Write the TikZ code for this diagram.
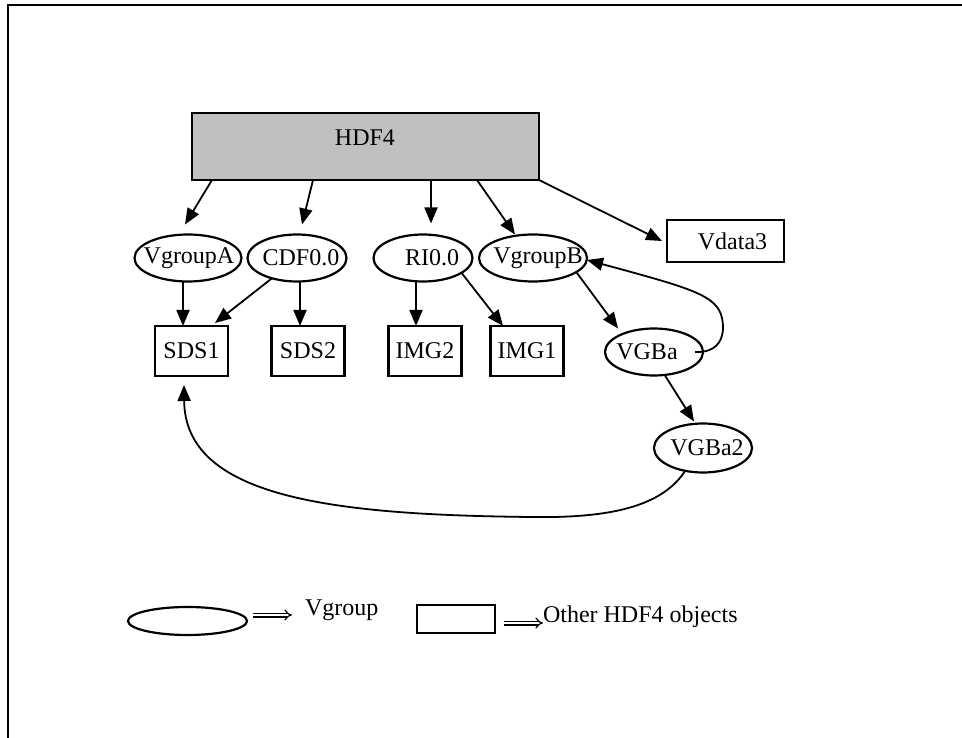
\documentclass[tikz,border=0pt]{standalone}
\usepackage{fontspec}
\setmainfont{Liberation Serif}
\usetikzlibrary{arrows.meta,shapes.geometric}
\definecolor{boxgray}{RGB}{192,192,192}
\newcommand\shifted[2]{\makebox[0pt]{\kern#1\relax\kern#1\relax #2}}
\begin{document}
\begin{tikzpicture}[x=1pt,y=-1pt,
  every node/.style={font=\fontsize{24}{28}\selectfont, inner sep=0pt, outer sep=0pt},
  vg/.style={draw, ellipse, line width=2.2pt, minimum width=#1, minimum height=47pt},
  vg/.default=99pt,
  obj/.style={draw, rectangle, line width=2.2pt, minimum width=73pt, minimum height=50pt},
  edge/.style={line width=1.8pt, -{Triangle[length=16pt,width=13pt]}},
  legarrow/.style={line width=1.2pt, double, double distance=2.6pt, -{Implies}}]

\useasboundingbox (0,0) rectangle (962,738);
\draw[line width=2.6pt] (8,738) -- (8,5) -- (962,5);

% top box
\node[draw, fill=boxgray, line width=2.2pt, minimum width=347pt, minimum height=67pt] (hdf) at (365.5,146.5) {};
\node[anchor=base] (hdft) at (365,146) {HDF4};

% vgroups
\node[vg=107pt] (vga) at (188,258) {\shifted{1pt}{VgroupA}};
\node[vg=99pt] (cdf) at (297,258) {\shifted{4pt}{CDF0.0}};
\node[vg=99pt] (ri) at (423,258) {\shifted{9pt}{RI0.0}};
\node[vg=108pt] (vgb) at (533,258) {\shifted{5pt}{VgroupB}};
\node[vg=98pt] (vgba) at (654,352) {\shifted{-7pt}{VGBa}};
\node[vg=98pt, minimum height=49pt] (vgba2) at (703,448) {\shifted{4pt}{VGBa2}};

% objects
\node[obj, minimum width=117pt, minimum height=42pt] (vd3) at (725.5,241) {\shifted{7pt}{Vdata3}};
\node[obj] (sds1) at (191.5,351) {SDS1};
\node[obj] (sds2) at (308,351) {SDS2};
\node[obj] (img2) at (425,351) {IMG2};
\node[obj] (img1) at (527,351) {IMG1};

% edges from HDF4
\draw[edge] ([xshift=20pt]hdf.south west) -- ([xshift=-3pt,yshift=10pt]vga.north);
\draw[edge] ([xshift=121pt]hdf.south west) -- ([xshift=5pt,yshift=10pt]cdf.north);
\draw[edge] ([xshift=239pt]hdf.south west) -- ([xshift=8pt,yshift=11pt]ri.north);
\draw[edge] ([xshift=285pt]hdf.south west) -- ([xshift=-18pt]vgb.north);
\draw[edge] (hdf.south east) -- ([xshift=-5pt]vd3.west);

% second level
\draw[edge] ([xshift=-5pt]vga.south) -- ([xshift=-8.5pt]sds1.north);
\draw[edge] (cdf.219) -- ([xshift=-13pt,yshift=3pt]sds1.north east);
\draw[edge] ([xshift=3pt]cdf.south) -- ([xshift=-8pt]sds2.north);
\draw[edge] ([xshift=-7pt]ri.south) -- ([xshift=-9pt]img2.north);
\draw[edge] (ri.339) -- ([xshift=-24pt]img1.north);
\draw[edge] (vgb.342) -- ([xshift=-36pt]vgba.north);
\draw[edge] ([xshift=11pt]vgba.south) -- ([xshift=-9pt,yshift=2pt]vgba2.north);

% curved edges
\draw[edge] ([xshift=-8pt]vgba.east) .. controls (718,353) and (726,338) .. (722,318)
  .. controls (717,295) and (690,288) .. ([yshift=-2pt]vgb.east);
\draw[edge] (vgba2.232) .. controls (660,510) and (600,518) .. (532,517)
  .. controls (330,515) and (185,497) .. ([xshift=-7.5pt,yshift=-9pt]sds1.south);

% legend
\node[draw, ellipse, line width=2.2pt, minimum width=119pt, minimum height=28pt] (legv) at (187.5,621) {};
\node[anchor=base west] (legvt) at (305,615) {Vgroup};
\node[draw, line width=2.2pt, minimum width=78pt, minimum height=28pt] (lego) at (456,619) {};
\node[anchor=base west] (legot) at (543,622) {Other HDF4 objects};
\draw[legarrow] ([xshift=6pt,yshift=6pt]legv.east) -- ([xshift=-13pt]legvt.base west);
\draw[legarrow] ([xshift=9pt,yshift=-4pt]lego.east) -- ([yshift=-1pt]legot.base west);
\end{tikzpicture}
\end{document}
